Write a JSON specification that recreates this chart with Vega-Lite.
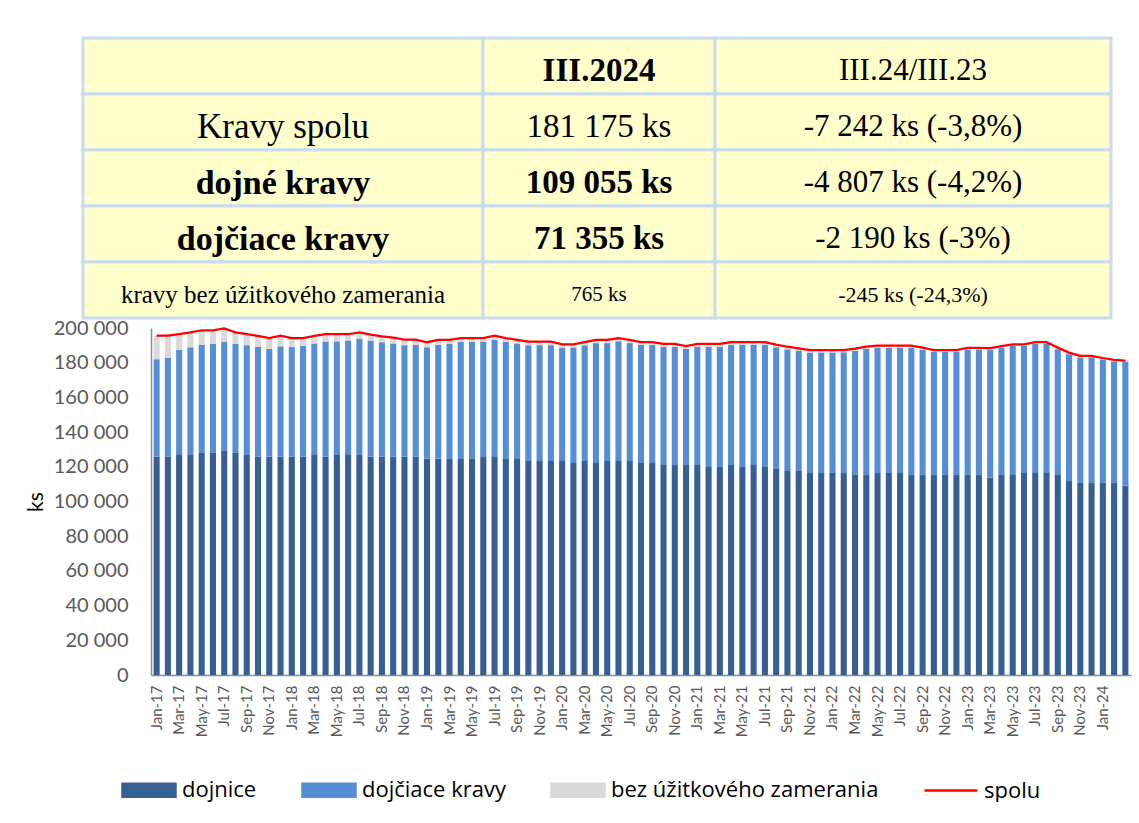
{
  "$schema": "https://vega.github.io/schema/vega-lite/v6.json",
  "background": "white",
  "padding": {"left": 25, "top": 36, "right": 0, "bottom": 0},
  "config": {"view": {"stroke": null}, "font": "Lato", "axis": {"labelOverlap": false}},
  "datasets": {
    "table": [
      {"r": 1, "c": 1, "t": ""}, {"r": 1, "c": 2, "t": "III.2024"}, {"r": 1, "c": 3, "t": "III.24/III.23"},
      {"r": 2, "c": 1, "t": "Kravy spolu"}, {"r": 2, "c": 2, "t": "181 175 ks"}, {"r": 2, "c": 3, "t": "-7 242 ks (-3,8%)"},
      {"r": 3, "c": 1, "t": "dojné kravy"}, {"r": 3, "c": 2, "t": "109 055 ks"}, {"r": 3, "c": 3, "t": "-4 807 ks (-4,2%)"},
      {"r": 4, "c": 1, "t": "dojčiace kravy"}, {"r": 4, "c": 2, "t": "71 355 ks"}, {"r": 4, "c": 3, "t": "-2 190 ks (-3%)"},
      {"r": 5, "c": 1, "t": "kravy bez úžitkového zamerania"}, {"r": 5, "c": 2, "t": "765 ks"}, {"r": 5, "c": 3, "t": "-245  ks (-24,3%)"}
    ],
    "cows": [
      {"m":"2017-01","dojnice":125800,"dojciace":56200,"bez":13600},
      {"m":"2017-02","dojnice":125800,"dojciace":57100,"bez":12700},
      {"m":"2017-03","dojnice":126800,"dojciace":60700,"bez":9000},
      {"m":"2017-04","dojnice":126800,"dojciace":62100,"bez":8600},
      {"m":"2017-05","dojnice":128000,"dojciace":62200,"bez":8500},
      {"m":"2017-06","dojnice":128000,"dojciace":62900,"bez":7800},
      {"m":"2017-07","dojnice":129100,"dojciace":63100,"bez":7600},
      {"m":"2017-08","dojnice":128000,"dojciace":62900,"bez":6600},
      {"m":"2017-09","dojnice":126800,"dojciace":63300,"bez":6400},
      {"m":"2017-10","dojnice":125800,"dojciace":63300,"bez":6300},
      {"m":"2017-11","dojnice":125800,"dojciace":62100,"bez":6300},
      {"m":"2017-12","dojnice":125800,"dojciace":63600,"bez":6200},
      {"m":"2018-01","dojnice":125800,"dojciace":63200,"bez":5200},
      {"m":"2018-02","dojnice":125800,"dojciace":63800,"bez":4600},
      {"m":"2018-03","dojnice":126800,"dojciace":64300,"bez":4300},
      {"m":"2018-04","dojnice":125800,"dojciace":66400,"bez":4200},
      {"m":"2018-05","dojnice":126800,"dojciace":65500,"bez":4100},
      {"m":"2018-06","dojnice":126800,"dojciace":66000,"bez":3600},
      {"m":"2018-07","dojnice":126800,"dojciace":67100,"bez":3600},
      {"m":"2018-08","dojnice":125800,"dojciace":66900,"bez":3500},
      {"m":"2018-09","dojnice":125800,"dojciace":66000,"bez":3400},
      {"m":"2018-10","dojnice":125800,"dojciace":65300,"bez":3300},
      {"m":"2018-11","dojnice":125800,"dojciace":64300,"bez":3200},
      {"m":"2018-12","dojnice":125800,"dojciace":64400,"bez":3100},
      {"m":"2019-01","dojnice":124700,"dojciace":64200,"bez":2900},
      {"m":"2019-02","dojnice":124700,"dojciace":65600,"bez":2800},
      {"m":"2019-03","dojnice":124500,"dojciace":66300,"bez":2300},
      {"m":"2019-04","dojnice":124500,"dojciace":67500,"bez":2200},
      {"m":"2019-05","dojnice":124500,"dojciace":67500,"bez":2200},
      {"m":"2019-06","dojnice":125600,"dojciace":66500,"bez":2100},
      {"m":"2019-07","dojnice":125600,"dojciace":67600,"bez":2400},
      {"m":"2019-08","dojnice":124500,"dojciace":67700,"bez":2000},
      {"m":"2019-09","dojnice":124500,"dojciace":66600,"bez":2000},
      {"m":"2019-10","dojnice":123300,"dojciace":66800,"bez":2000},
      {"m":"2019-11","dojnice":123300,"dojciace":66800,"bez":2000},
      {"m":"2019-12","dojnice":123300,"dojciace":66800,"bez":2000},
      {"m":"2020-01","dojnice":123300,"dojciace":65400,"bez":1900},
      {"m":"2020-02","dojnice":122200,"dojciace":66600,"bez":1800},
      {"m":"2020-03","dojnice":123300,"dojciace":66700,"bez":1800},
      {"m":"2020-04","dojnice":122200,"dojciace":69100,"bez":1800},
      {"m":"2020-05","dojnice":123300,"dojciace":68000,"bez":1800},
      {"m":"2020-06","dojnice":123300,"dojciace":69100,"bez":1800},
      {"m":"2020-07","dojnice":123300,"dojciace":68000,"bez":1800},
      {"m":"2020-08","dojnice":122200,"dojciace":68000,"bez":1700},
      {"m":"2020-09","dojnice":122200,"dojciace":68000,"bez":1700},
      {"m":"2020-10","dojnice":121000,"dojciace":68100,"bez":1700},
      {"m":"2020-11","dojnice":121000,"dojciace":68100,"bez":1700},
      {"m":"2020-12","dojnice":121000,"dojciace":67000,"bez":1600},
      {"m":"2021-01","dojnice":121000,"dojciace":68200,"bez":1600},
      {"m":"2021-02","dojnice":119900,"dojciace":69300,"bez":1600},
      {"m":"2021-03","dojnice":119900,"dojciace":69300,"bez":1600},
      {"m":"2021-04","dojnice":121000,"dojciace":69300,"bez":1600},
      {"m":"2021-05","dojnice":119900,"dojciace":70500,"bez":1500},
      {"m":"2021-06","dojnice":121000,"dojciace":69400,"bez":1500},
      {"m":"2021-07","dojnice":119900,"dojciace":70500,"bez":1500},
      {"m":"2021-08","dojnice":118700,"dojciace":70200,"bez":1500},
      {"m":"2021-09","dojnice":117600,"dojciace":70100,"bez":1500},
      {"m":"2021-10","dojnice":117600,"dojciace":69300,"bez":1400},
      {"m":"2021-11","dojnice":116400,"dojciace":69500,"bez":1400},
      {"m":"2021-12","dojnice":116400,"dojciace":69500,"bez":1400},
      {"m":"2022-01","dojnice":116400,"dojciace":69500,"bez":1400},
      {"m":"2022-02","dojnice":116400,"dojciace":69600,"bez":1300},
      {"m":"2022-03","dojnice":115300,"dojciace":71500,"bez":1300},
      {"m":"2022-04","dojnice":115300,"dojciace":72600,"bez":1300},
      {"m":"2022-05","dojnice":116400,"dojciace":72100,"bez":1300},
      {"m":"2022-06","dojnice":116400,"dojciace":72200,"bez":1200},
      {"m":"2022-07","dojnice":116400,"dojciace":72200,"bez":1200},
      {"m":"2022-08","dojnice":115300,"dojciace":73300,"bez":1200},
      {"m":"2022-09","dojnice":115300,"dojciace":72200,"bez":1200},
      {"m":"2022-10","dojnice":115300,"dojciace":70900,"bez":1100},
      {"m":"2022-11","dojnice":115300,"dojciace":70900,"bez":1100},
      {"m":"2022-12","dojnice":115300,"dojciace":70900,"bez":1100},
      {"m":"2023-01","dojnice":115300,"dojciace":72100,"bez":1100},
      {"m":"2023-02","dojnice":115300,"dojciace":72200,"bez":1000},
      {"m":"2023-03","dojnice":113862,"dojciace":73545,"bez":1010},
      {"m":"2023-04","dojnice":115300,"dojciace":73300,"bez":1000},
      {"m":"2023-05","dojnice":115300,"dojciace":74300,"bez":1000},
      {"m":"2023-06","dojnice":116400,"dojciace":73300,"bez":900},
      {"m":"2023-07","dojnice":116400,"dojciace":74500,"bez":900},
      {"m":"2023-08","dojnice":116400,"dojciace":74500,"bez":900},
      {"m":"2023-09","dojnice":115300,"dojciace":72500,"bez":900},
      {"m":"2023-10","dojnice":111800,"dojciace":73100,"bez":900},
      {"m":"2023-11","dojnice":110700,"dojciace":72400,"bez":800},
      {"m":"2023-12","dojnice":110700,"dojciace":72400,"bez":800},
      {"m":"2024-01","dojnice":110700,"dojciace":71200,"bez":800},
      {"m":"2024-02","dojnice":110700,"dojciace":70100,"bez":800},
      {"m":"2024-03","dojnice":109055,"dojciace":71355,"bez":765}
    ]
  },
  "spacing": -2,
  "vconcat": [
    {
      "bounds": "flush",
      "spacing": 0,
      "hconcat": [
        {
          "width": 400, "height": 280,
          "data": {"name": "table"},
          "transform": [{"filter": "datum.c == 1"}],
          "encoding": {"y": {"field": "r", "type": "ordinal", "axis": null, "scale": {"paddingInner": 0, "paddingOuter": 0}}},
          "layer": [
            {"mark": {"type": "rect", "fill": "#FFFFCC", "stroke": "#C9DBEE", "strokeWidth": 3}},
            {"transform": [{"filter": "datum.r == 2 || datum.r == 5"}],
             "mark": {"type": "text", "font": "Liberation Serif", "color": "#000000", "dy": 5},
             "encoding": {"text": {"field": "t"}, "size": {"condition": {"test": "datum.r == 5", "value": 25}, "value": 35}}},
            {"transform": [{"filter": "datum.r == 3 || datum.r == 4"}],
             "mark": {"type": "text", "font": "Liberation Serif", "fontWeight": "bold", "fontSize": 34, "color": "#000000", "dy": 6},
             "encoding": {"text": {"field": "t"}}}
          ]
        },
        {
          "width": 232, "height": 280,
          "data": {"name": "table"},
          "transform": [{"filter": "datum.c == 2"}],
          "encoding": {"y": {"field": "r", "type": "ordinal", "axis": null, "scale": {"paddingInner": 0, "paddingOuter": 0}}},
          "layer": [
            {"mark": {"type": "rect", "fill": "#FFFFCC", "stroke": "#C9DBEE", "strokeWidth": 3}},
            {"transform": [{"filter": "datum.r == 2 || datum.r == 5"}],
             "mark": {"type": "text", "font": "Liberation Serif", "color": "#000000", "dy": 5},
             "encoding": {"text": {"field": "t"}, "size": {"condition": {"test": "datum.r == 5", "value": 21}, "value": 33}}},
            {"transform": [{"filter": "datum.r == 1 || datum.r == 3 || datum.r == 4"}],
             "mark": {"type": "text", "font": "Liberation Serif", "fontWeight": "bold", "fontSize": 33, "color": "#000000", "dy": 5},
             "encoding": {"text": {"field": "t"}}}
          ]
        },
        {
          "width": 396, "height": 280,
          "data": {"name": "table"},
          "transform": [{"filter": "datum.c == 3"}],
          "encoding": {"y": {"field": "r", "type": "ordinal", "axis": null, "scale": {"paddingInner": 0, "paddingOuter": 0}}},
          "layer": [
            {"mark": {"type": "rect", "fill": "#FFFFCC", "stroke": "#C9DBEE", "strokeWidth": 3}},
            {"mark": {"type": "text", "font": "Liberation Serif", "color": "#000000", "dy": 5},
             "encoding": {"text": {"field": "t"}, "size": {"condition": {"test": "datum.r == 5", "value": 22}, "value": 31}}}
          ]
        }
      ]
    },
    {
      "bounds": "flush",
      "spacing": 0,
      "hconcat": [
        {
          "width": 68, "height": 347,
          "data": {"name": "table"},
          "mark": {"type": "text", "text": ""},
          "encoding": {}
        },
        {
          "width": 980,
          "height": 347,
          "data": {"name": "cows"},
          "transform": [
            {"fold": ["dojnice", "dojciace", "bez"], "as": ["k", "v"]},
            {"calculate": "indexof(['dojnice','dojciace','bez'], datum.k)", "as": "o"}
          ],
          "encoding": {
            "x": {
              "field": "m", "timeUnit": "utcyearmonth", "type": "ordinal", "title": null,
              "scale": {"paddingInner": 0.46, "paddingOuter": 0.23},
              "axis": {
                "labelExpr": "(utcmonth(datum.value) % 2 == 0 && utcyear(datum.value) * 12 + utcmonth(datum.value) < 2024 * 12 + 2) ? utcFormat(datum.value, '%b-%y') : ''",
                "labelAngle": -90, "labelFontSize": 15, "labelColor": "#595959", "labelPadding": 10,
                "ticks": false, "domainColor": "#8C8C8C", "domainWidth": 1.5, "labelOverlap": false, "labelFont": "Lato"
              }
            },
            "y": {
              "field": "v", "type": "quantitative",
              "scale": {"domain": [0, 200000], "nice": false},
              "title": "ks",
              "axis": {
                "values": [0, 20000, 40000, 60000, 80000, 100000, 120000, 140000, 160000, 180000, 200000],
                "labelExpr": "replace(format(datum.value, ','), ',', ' ')",
                "labelOverlap": false,
                "grid": false, "ticks": false, "labelPadding": 23, "labelFontSize": 20, "labelColor": "#595959", "labelFont": "Lato",
                "titleFontSize": 21, "titleFontWeight": "normal", "titleColor": "#000000", "titlePadding": 7, "titleFont": "Lato",
                "domainColor": "#8C8C8C", "domainWidth": 1.5
              }
            }
          },
          "layer": [
            {
              "mark": {"type": "bar"},
              "encoding": {
                "y": {"field": "v", "type": "quantitative", "stack": "zero"},
                "color": {
                  "field": "k", "type": "nominal",
                  "scale": {"domain": ["dojnice", "dojciace", "bez", "spolu"], "range": ["#376092", "#558ED5", "#D9D9D9", "#FF0000"]},
                  "legend": {
                    "orient": "none", "legendX": 38, "legendY": 724, "direction": "horizontal", "title": null,
                    "symbolSize": 2809, "labelFontSize": 22, "labelFont": "Open Sans", "labelColor": "#000000", "labelOffset": 5,
                    "labelLimit": 400,
                    "columnPadding": 40, "padding": 0,
                    "labelExpr": "datum.label == 'dojciace' ? 'dojčiace kravy' : datum.label == 'bez' ? 'bez úžitkového zamerania' : datum.label",
                    "encode": {
                      "symbols": {
                        "update": {
                          "shape": {"signal": "datum.value == 'spolu' ? 'M-1,0H1' : 'M-1,-0.245H1V0.245H-1Z'"},
                          "stroke": {"signal": "datum.value == 'spolu' ? '#FF0000' : 'transparent'"},
                          "strokeWidth": {"value": 2.5},
                          "fill": {"signal": "datum.value == 'spolu' ? 'transparent' : scale('color', datum.value)"},
                          "opacity": {"value": 1}
                        }
                      }
                    }
                  }
                },
                "order": {"field": "o", "type": "quantitative"}
              }
            },
            {
              "mark": {"type": "line", "color": "#FF0000", "strokeWidth": 2.25},
              "encoding": {
                "y": {"aggregate": "sum", "field": "v", "type": "quantitative"},
                "color": {"datum": "spolu"}
              }
            }
          ]
        }
      ]
    }
  ]
}
